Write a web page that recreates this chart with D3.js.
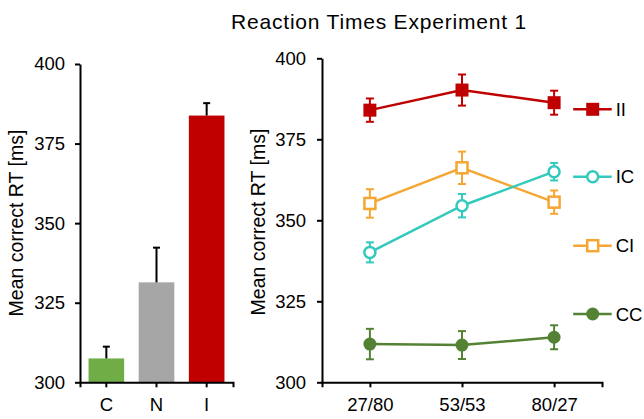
<!DOCTYPE html>
<html>
<head>
<meta charset="utf-8">
<script src="https://cdn.jsdelivr.net/npm/d3@7"></script>
<style>
  body { margin: 0; background: #fff; }
  svg { display: block; font-family: "Liberation Sans", Arial, sans-serif; }
</style>
</head>
<body>
<div id="chart"></div>
<script>
// left panel: overall means (upper error bar only)
const barCategories = ["C", "N", "I"]
const barValues = [307.5, 331.4, 383.8]
const barErrors = [3.7, 10.9, 3.9]
const barColors = ["#70ad47", "#a6a6a6", "#c00000"]

// right panel: conditions by proportion
const ratioCategories = ["27/80", "53/53", "80/27"]
const seriesNames = ["II", "IC", "CI", "CC"]
const iiValues = [384.0, 390.2, 386.3]
const iiErrors = [3.6, 4.8, 3.7]
const icValues = [340.1, 354.5, 365.0]
const icErrors = [3.1, 3.6, 2.7]
const ciValues = [355.2, 366.2, 355.6]
const ciErrors = [4.4, 5.0, 3.6]
const ccValues = [311.8, 311.5, 313.9]
const ccErrors = [4.7, 4.3, 3.7]

const yTicks = [300, 325, 350, 375, 400]
const yDomain = [300, 400]

const width = 644
const height = 419
const fontSize = 18.5

const svg = d3.select("#chart")
  .append("svg")
  .attr("width", width)
  .attr("height", height)

svg.append("rect").attr("width", width).attr("height", height).attr("fill", "#fff")

function styleAxis(g) {
  g.select(".domain").attr("stroke", "#000").attr("stroke-width", 2)
  g.selectAll(".tick line").attr("stroke", "#000").attr("stroke-width", 2)
  g.selectAll(".tick text").attr("font-size", fontSize).attr("fill", "#000")
    .attr("font-family", "Liberation Sans, Arial, sans-serif")
}

// ---------- title ----------
svg.append("text")
  .attr("x", 379)
  .attr("y", 29)
  .attr("text-anchor", "middle")
  .attr("font-size", 21)
  .attr("letter-spacing", 0.8)
  .attr("fill", "#000")
  .text("Reaction Times Experiment 1")

// ---------- left panel ----------
const left = { x0: 80, x1: 233, top: 64, bottom: 382.3 }
const xL = d3.scaleBand()
  .domain(barCategories)
  .range([left.x0, left.x1])
  .paddingInner(0.29)
  .paddingOuter(0.17)
const yL = d3.scaleLinear().domain(yDomain).range([left.bottom, left.top])

const bars = barCategories.map((c, i) => ({ cat: c, value: barValues[i], err: barErrors[i], color: barColors[i] }))

const gL = svg.append("g")

gL.append("g").selectAll("rect")
  .data(bars)
  .join("rect")
  .attr("x", d => xL(d.cat))
  .attr("y", d => yL(d.value))
  .attr("width", xL.bandwidth())
  .attr("height", d => yL(yDomain[0]) - yL(d.value))
  .attr("fill", d => d.color)

// upper error bars only
const capL = 3.5
const errL = gL.append("g").attr("stroke", "#000").attr("stroke-width", 2)
errL.selectAll("line.stem")
  .data(bars).join("line").attr("class", "stem")
  .attr("x1", d => xL(d.cat) + xL.bandwidth() / 2)
  .attr("x2", d => xL(d.cat) + xL.bandwidth() / 2)
  .attr("y1", d => yL(d.value))
  .attr("y2", d => yL(d.value + d.err))
errL.selectAll("line.cap")
  .data(bars).join("line").attr("class", "cap")
  .attr("x1", d => xL(d.cat) + xL.bandwidth() / 2 - capL)
  .attr("x2", d => xL(d.cat) + xL.bandwidth() / 2 + capL)
  .attr("y1", d => yL(d.value + d.err))
  .attr("y2", d => yL(d.value + d.err))

gL.append("g")
  .attr("transform", `translate(${left.x0},0)`)
  .call(d3.axisLeft(yL).tickValues(yTicks).tickSize(5).tickSizeOuter(0).tickPadding(10))
  .call(styleAxis)

gL.append("g")
  .attr("transform", `translate(0,${left.bottom})`)
  .call(d3.axisBottom(xL).tickSize(5).tickSizeOuter(5).tickPadding(11))
  .call(styleAxis)

svg.append("text")
  .attr("transform", `translate(23,223) rotate(-90)`)
  .attr("text-anchor", "middle")
  .attr("font-size", 19.5)
  .attr("fill", "#000")
  .text("Mean correct RT [ms]")

// ---------- right panel ----------
const right = { x0: 322, x1: 602, top: 58.3, bottom: 382.3 }
const xR = d3.scalePoint()
  .domain(ratioCategories)
  .range([right.x0, right.x1])
  .padding(0.52)
const yR = d3.scaleLinear().domain(yDomain).range([right.bottom, right.top])

const series = [
  { name: "II", values: iiValues, errors: iiErrors, color: "#c00000", shape: "square", filled: true, legendY: 109.3 },
  { name: "IC", values: icValues, errors: icErrors, color: "#33c9bd", shape: "circle", filled: false, legendY: 176.7 },
  { name: "CI", values: ciValues, errors: ciErrors, color: "#f5a733", shape: "square", filled: false, legendY: 245.7 },
  { name: "CC", values: ccValues, errors: ccErrors, color: "#548235", shape: "circle", filled: true, legendY: 314 }
]

const gR = svg.append("g")

gR.append("g")
  .attr("transform", `translate(${right.x0},0)`)
  .call(d3.axisLeft(yR).tickValues(yTicks).tickSize(5).tickSizeOuter(0).tickPadding(11))
  .call(styleAxis)

gR.append("g")
  .attr("transform", `translate(0,${right.bottom})`)
  .call(d3.axisBottom(xR).tickSize(5).tickSizeOuter(5).tickPadding(11))
  .call(styleAxis)

svg.append("text")
  .attr("transform", `translate(265,222) rotate(-90)`)
  .attr("text-anchor", "middle")
  .attr("font-size", 19.5)
  .attr("fill", "#000")
  .text("Mean correct RT [ms]")

const markerSize = 13
function drawMarker(sel, s) {
  if (s.shape === "square") {
    sel.append("rect")
      .attr("x", -markerSize / 2 + (s.filled ? 0 : 1))
      .attr("y", -markerSize / 2 + (s.filled ? 0 : 1))
      .attr("width", markerSize - (s.filled ? 0 : 2))
      .attr("height", markerSize - (s.filled ? 0 : 2))
      .attr("fill", s.filled ? s.color : "#fff")
      .attr("stroke", s.color)
      .attr("stroke-width", s.filled ? 0 : 2.5)
  } else {
    sel.append("circle")
      .attr("r", s.filled ? 6.5 : 5.5)
      .attr("fill", s.filled ? s.color : "#fff")
      .attr("stroke", s.color)
      .attr("stroke-width", s.filled ? 0 : 2.5)
  }
}

const line = d3.line()
  .x(d => xR(d.cat))
  .y(d => yR(d.value))

const capR = 4
// draw order so that teal sits above orange at the crossing
const drawOrder = ["CC", "CI", "IC", "II"]
drawOrder.forEach(name => {
  const s = series.find(d => d.name === name)
  const pts = ratioCategories.map((c, i) => ({ cat: c, value: s.values[i], err: s.errors[i] }))
  const g = gR.append("g")

  const eb = g.append("g").attr("stroke", s.color).attr("stroke-width", 2)
  eb.selectAll("line.stem").data(pts).join("line").attr("class", "stem")
    .attr("x1", d => xR(d.cat)).attr("x2", d => xR(d.cat))
    .attr("y1", d => yR(d.value - d.err)).attr("y2", d => yR(d.value + d.err))
  eb.selectAll("line.top").data(pts).join("line").attr("class", "top")
    .attr("x1", d => xR(d.cat) - capR).attr("x2", d => xR(d.cat) + capR)
    .attr("y1", d => yR(d.value + d.err)).attr("y2", d => yR(d.value + d.err))
  eb.selectAll("line.bot").data(pts).join("line").attr("class", "bot")
    .attr("x1", d => xR(d.cat) - capR).attr("x2", d => xR(d.cat) + capR)
    .attr("y1", d => yR(d.value - d.err)).attr("y2", d => yR(d.value - d.err))

  g.append("path")
    .datum(pts)
    .attr("d", line)
    .attr("fill", "none")
    .attr("stroke", s.color)
    .attr("stroke-width", 2.5)

  g.selectAll("g.pt").data(pts).join("g").attr("class", "pt")
    .attr("transform", d => `translate(${xR(d.cat)},${yR(d.value)})`)
    .each(function () { drawMarker(d3.select(this), s) })
})

// legend
const legend = svg.append("g")
series.forEach(s => {
  const lg = legend.append("g").attr("transform", `translate(592.7,${s.legendY})`)
  lg.append("line")
    .attr("x1", -19.5).attr("x2", 19)
    .attr("stroke", s.color).attr("stroke-width", 2.5)
  drawMarker(lg, s)
  lg.append("text")
    .attr("x", 23)
    .attr("dy", "0.36em")
    .attr("font-size", fontSize)
    .attr("fill", "#000")
    .text(s.name)
})
</script>
</body>
</html>
